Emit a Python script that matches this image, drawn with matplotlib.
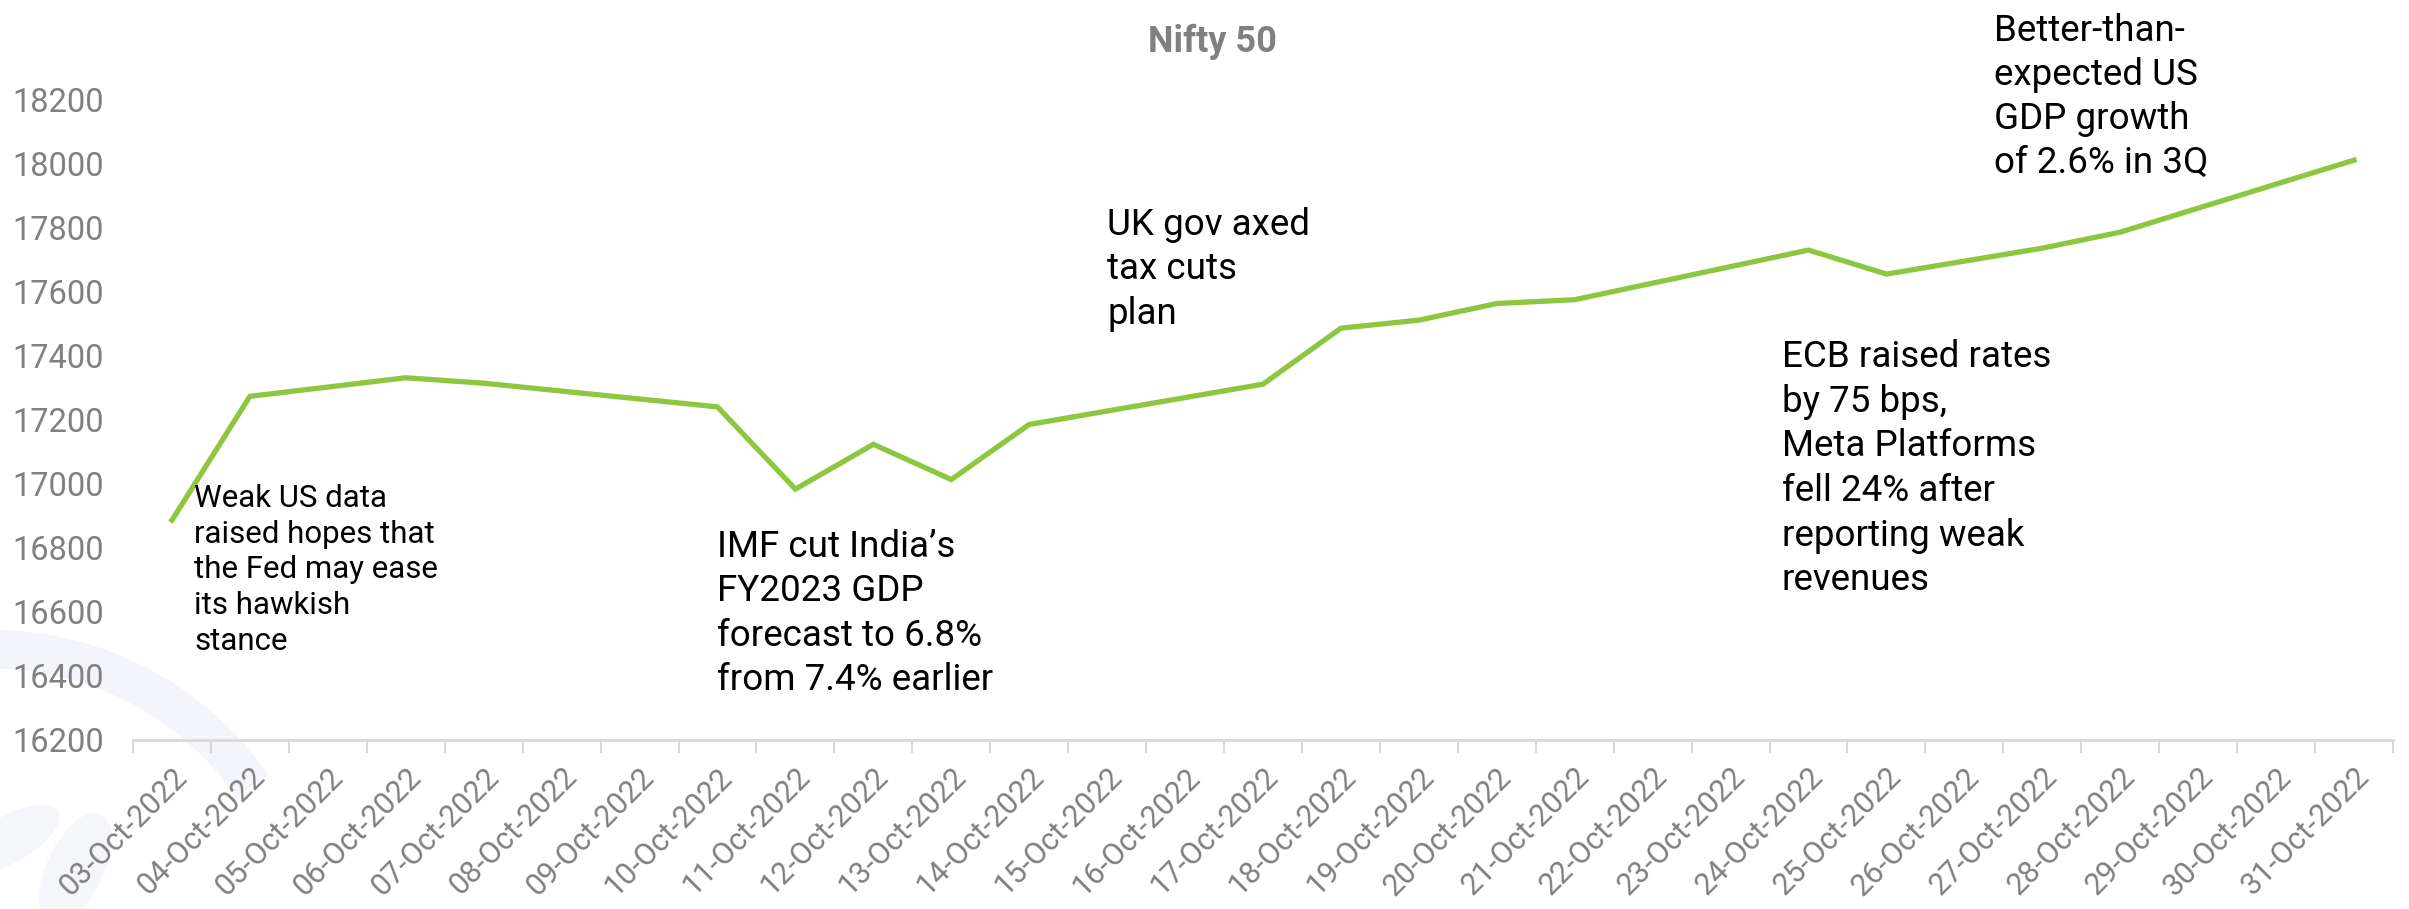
import numpy as np
import matplotlib
matplotlib.use("Agg")
import matplotlib.pyplot as plt
from matplotlib.patches import Arc, Ellipse

plt.rcParams['font.family'] = ['Roboto', 'DejaVu Sans']

dates = ["03-Oct-2022", "04-Oct-2022", "05-Oct-2022", "06-Oct-2022", "07-Oct-2022",
         "08-Oct-2022", "09-Oct-2022", "10-Oct-2022", "11-Oct-2022", "12-Oct-2022",
         "13-Oct-2022", "14-Oct-2022", "15-Oct-2022", "16-Oct-2022", "17-Oct-2022",
         "18-Oct-2022", "19-Oct-2022", "20-Oct-2022", "21-Oct-2022", "22-Oct-2022",
         "23-Oct-2022", "24-Oct-2022", "25-Oct-2022", "26-Oct-2022", "27-Oct-2022",
         "28-Oct-2022", "29-Oct-2022", "30-Oct-2022", "31-Oct-2022"]
nan = np.nan
nifty = [16887, 17274, nan, 17332, 17315,
         nan, nan, 17241, 16984, 17124,
         17014, 17186, nan, nan, 17312,
         17487, 17512, 17564, 17576, nan,
         nan, 17731, 17656, nan, 17737,
         17787, nan, nan, 18012]
yticks = [16200, 16400, 16600, 16800, 17000, 17200, 17400, 17600, 17800, 18000, 18200]

W, H = 2409, 909
fig = plt.figure(figsize=(W / 100, H / 100), dpi=100)

# very faint watermark in the lower-left corner (behind everything)
fig.patches.append(Arc((-10, -60), 640, 640, theta1=35, theta2=100, lw=28,
                       color='#F3F5FA', transform=None, zorder=-5))
fig.patches.append(Ellipse((75, 40), 55, 120, angle=-25, color='#F4F6FA',
                           transform=None, zorder=-5))
fig.patches.append(Ellipse((10, 70), 45, 110, angle=-60, color='#F4F6FA',
                           transform=None, zorder=-5))

ax = fig.add_axes([133 / W, 1 - 740 / H, (2393 - 133) / W, (740 - 100) / H])
ax.patch.set_alpha(0)

x = np.arange(len(dates))
y = np.array(nifty, dtype=float)
m = ~np.isnan(y)
ax.plot(x[m], y[m], color='#8DC63F', lw=3.8, solid_joinstyle='miter')

ax.set_xlim(-0.5, len(dates) - 0.5)
ax.set_ylim(16200, 18200)
ax.set_yticks(yticks)
ax.set_yticklabels([str(v) for v in yticks], fontsize=23.5, color='#808080')
ax.tick_params(axis='y', length=0, pad=21)

ax.set_xticks(x)
ax.set_xticklabels(dates, rotation=45, ha='right', va='top', rotation_mode='anchor',
                   fontsize=22, color='#808080')
ax.tick_params(axis='x', which='major', length=0, pad=16)
ax.set_xticks(np.arange(-0.5, len(dates)), minor=True)
ax.tick_params(axis='x', which='minor', length=9, width=1.5, color='#D9D9D9')

for s in ['left', 'right', 'top']:
    ax.spines[s].set_visible(False)
ax.spines['bottom'].set_color('#D9D9D9')
ax.spines['bottom'].set_linewidth(2)

fig.text(1212 / W, 1 - 42 / H, "Nifty 50", ha='center', va='center',
         fontsize=26, fontweight='bold', color='#808080')

def note(xp, ytop, txt, fs, ls):
    fig.text(xp / W, 1 - ytop / H, txt, ha='left', va='top', fontsize=fs,
             color='black', linespacing=ls)

note(194, 484, "Weak US data\nraised hopes that\nthe Fed may ease\nits hawkish\nstance", 22.5, 1.29)
note(717, 529, "IMF cut India\u2019s\nFY2023 GDP\nforecast to 6.8%\nfrom 7.4% earlier", 26.5, 1.30)
note(1107, 207, "UK gov axed\ntax cuts\nplan", 26.5, 1.30)
note(1782, 339, "ECB raised rates\nby 75 bps,\nMeta Platforms\nfell 24% after\nreporting weak\nrevenues", 26.5, 1.31)
note(1994, 13, "Better-than-\nexpected US\nGDP growth\nof 2.6% in 3Q", 26.5, 1.28)

fig.savefig("out.png", dpi=100, facecolor='white')
